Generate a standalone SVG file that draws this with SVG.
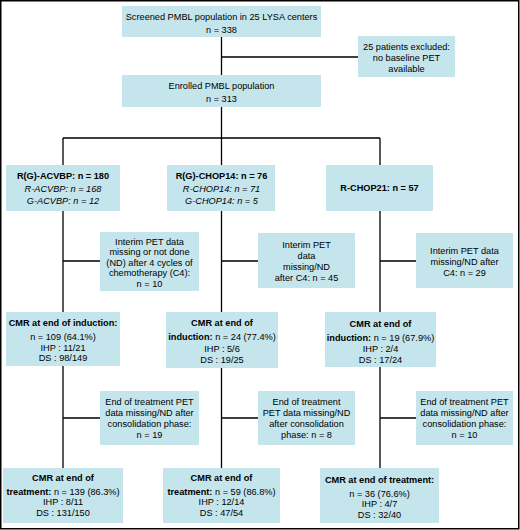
<svg xmlns="http://www.w3.org/2000/svg" width="520" height="530" viewBox="0 0 520 530">
<style>
.b{fill:#c5e5ec;stroke:none}
.c{stroke:#000;stroke-width:1.3;fill:none}
text{font-family:"Liberation Sans",Arial,sans-serif;font-size:9.2px;fill:#000;text-anchor:middle}
.bd{font-weight:bold}
.it{font-style:italic}
</style>
<rect x="0.75" y="0.75" width="518" height="528" fill="#fff" stroke="#000" stroke-width="1.5"/>
<g id="connectors" class="c">
<path d="M221.5 37V75M221.5 57H358M221.5 107V138M63 138H380M63 138V165M221.5 138V165M380 138V165"/>
<path d="M63 211V312M221.5 211V312M380 211V312M63 261H100M221.5 261H258M380 261H416"/>
<path d="M63 366V468M221.5 368V468M380 367V468M63 418H100M221.5 418H258M380 418H416"/>
</g>
<g id="screened"><rect class="b" x="122" y="6" width="199" height="31"/>
<text x="221.5" y="19.5">Screened PMBL population in 25 LYSA centers</text>
<text x="221.5" y="32.5">n = 338</text></g>
<g id="excluded"><rect class="b" x="358" y="36" width="97" height="41"/>
<text x="406.5" y="50">25 patients excluded:</text>
<text x="406.5" y="61">no baseline PET</text>
<text x="406.5" y="72">available</text></g>
<g id="enrolled"><rect class="b" x="122" y="75" width="199" height="32"/>
<text x="221.5" y="88.5">Enrolled PMBL population</text>
<text x="221.5" y="101.5">n = 313</text></g>
<g id="acvbp"><rect class="b" x="6" y="165" width="114" height="46"/>
<text x="63" y="178.5" class="bd">R(G)-ACVBP: n = 180</text>
<text x="63" y="191.5" class="it">R-ACVBP: n = 168</text>
<text x="63" y="203.5" class="it">G-ACVBP: n = 12</text></g>
<g id="chop14"><rect class="b" x="167" y="165" width="108" height="46"/>
<text x="221.5" y="178.5" class="bd">R(G)-CHOP14: n = 76</text>
<text x="221.5" y="191.5" class="it">R-CHOP14: n = 71</text>
<text x="221.5" y="203.5" class="it">G-CHOP14: n = 5</text></g>
<g id="chop21"><rect class="b" x="326" y="165" width="107" height="46"/>
<text x="379.5" y="190.5" class="bd">R-CHOP21: n = 57</text></g>
<g id="interimA"><rect class="b" x="100" y="232" width="99" height="59"/>
<text x="149.5" y="244.5">Interim PET data</text>
<text x="149.5" y="255">missing or not done</text>
<text x="149.5" y="265.5">(ND) after 4 cycles of</text>
<text x="149.5" y="276">chemotherapy (C4):</text>
<text x="149.5" y="286.5">n = 10</text></g>
<g id="interimB"><rect class="b" x="258" y="233" width="97" height="55"/>
<text x="306.5" y="247.5">Interim PET</text>
<text x="306.5" y="258.5">data</text>
<text x="306.5" y="269.5">missing/ND</text>
<text x="306.5" y="280.5">after C4: n = 45</text></g>
<g id="interimC"><rect class="b" x="416" y="233" width="97" height="55"/>
<text x="464.5" y="253.5">Interim PET data</text>
<text x="464.5" y="264.5">missing/ND after</text>
<text x="464.5" y="275.5">C4: n = 29</text></g>
<g id="indA"><rect class="b" x="6" y="312" width="114" height="54"/>
<text x="63" y="325.5" class="bd">CMR at end of induction:</text>
<text x="63" y="339.5">n = 109 (64.1%)</text>
<text x="63" y="350.5">IHP : 11/21</text>
<text x="63" y="360.5">DS : 98/149</text></g>
<g id="indB"><rect class="b" x="166" y="312" width="112" height="56"/>
<text x="222" y="325.5" class="bd">CMR at end of</text>
<text x="222" y="339.5"><tspan class="bd">induction:</tspan> n = 24 (77.4%)</text>
<text x="222" y="351.5">IHP : 5/6</text>
<text x="222" y="362.5">DS : 19/25</text></g>
<g id="indC"><rect class="b" x="325" y="312" width="111" height="55"/>
<text x="380.5" y="326.5" class="bd">CMR at end of</text>
<text x="380.5" y="340.5"><tspan class="bd">induction:</tspan> n = 19 (67.9%)</text>
<text x="380.5" y="351.5">IHP : 2/4</text>
<text x="380.5" y="362.5">DS : 17/24</text></g>
<g id="eotA"><rect class="b" x="100" y="391" width="99" height="54"/>
<text x="149.5" y="404.5">End of treatment PET</text>
<text x="149.5" y="415.5">data missing/ND after</text>
<text x="149.5" y="426.5">consolidation phase:</text>
<text x="149.5" y="437.5">n = 19</text></g>
<g id="eotB"><rect class="b" x="258" y="391" width="97" height="54"/>
<text x="306.5" y="404.5">End of treatment</text>
<text x="306.5" y="415.5">PET data missing/ND</text>
<text x="306.5" y="426.5">after consolidation</text>
<text x="306.5" y="437.5">phase: n = 8</text></g>
<g id="eotC"><rect class="b" x="416" y="391" width="97" height="54"/>
<text x="464.5" y="404.5">End of treatment PET</text>
<text x="464.5" y="415.5">data missing/ND after</text>
<text x="464.5" y="426.5">consolidation phase:</text>
<text x="464.5" y="437.5">n = 10</text></g>
<g id="finA"><rect class="b" x="3" y="468" width="120" height="55"/>
<text x="63" y="480.5" class="bd">CMR at end of</text>
<text x="63" y="494.5"><tspan class="bd">treatment:</tspan> n = 139 (86.3%)</text>
<text x="63" y="505">IHP : 8/11</text>
<text x="63" y="515.5">DS : 131/150</text></g>
<g id="finB"><rect class="b" x="163" y="468" width="117" height="55"/>
<text x="221.5" y="480.5" class="bd">CMR at end of</text>
<text x="221.5" y="494.5"><tspan class="bd">treatment:</tspan> n = 59 (86.8%)</text>
<text x="221.5" y="505">IHP : 12/14</text>
<text x="221.5" y="515.5">DS : 47/54</text></g>
<g id="finC"><rect class="b" x="320" y="468" width="119" height="55"/>
<text x="379.5" y="482.5" class="bd">CMR at end of treatment:</text>
<text x="379.5" y="496.5">n = 36 (76.6%)</text>
<text x="379.5" y="507">IHP : 4/7</text>
<text x="379.5" y="517.5">DS : 32/40</text></g>
</svg>
